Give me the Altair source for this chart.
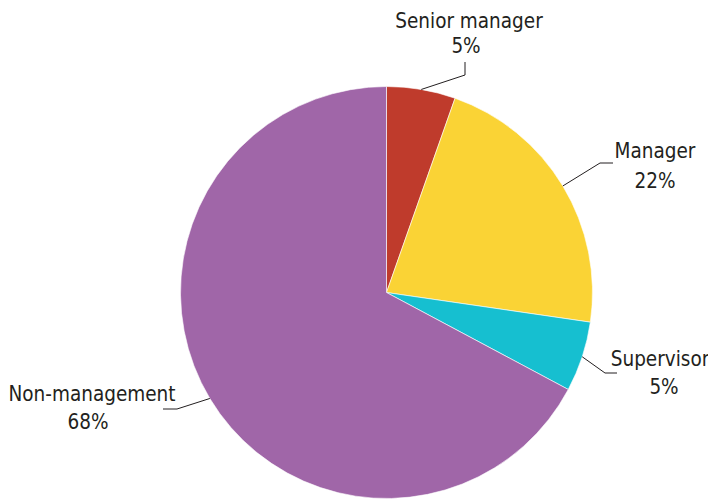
import math
import altair as alt
import pandas as pd

# ---- data ----
categories = ["Senior manager", "Manager", "Supervisor", "Non-management"]
shares = [5.4, 21.9, 5.5, 67.2]
pct_labels = ["5%", "22%", "5%", "68%"]
colors = ["#BF3B2C", "#FAD335", "#16BFD0", "#A066A8"]

# ---- layout (pixels) ----
W, H = 700, 491
CX, CY, R = 378.5, 284.5, 206
FONT = "DejaVu Sans Condensed, Liberation Sans Narrow, sans-serif"
FS = 20.5
TXT = "#231F20"
# leader elbow / end and label anchors, relative to the pie centre
elbow = {"Senior manager": (78.5, -217.5), "Manager": (213.5, -129.5),
         "Supervisor": (218.5, 80.5), "Non-management": (-209.5, 116.5)}
endp = {"Senior manager": (78.5, -230.5), "Manager": (226.5, -129.5),
        "Supervisor": (230.5, 80.5), "Non-management": (-223.5, 116.5)}
name_pos = {"Senior manager": (82.5, -270.5), "Manager": (268.5, -140.5),
            "Supervisor": (273.5, 67.5), "Non-management": (-294.5, 102.5)}
pct_pos = {"Senior manager": (79.5, -245.5), "Manager": (268.5, -110.5),
           "Supervisor": (277.5, 95.5), "Non-management": (-298.5, 130.5)}

pie_df = pd.DataFrame({"category": categories, "share": shares,
                       "order": list(range(len(categories)))})

total = sum(shares)
line_rows, text_rows = [], []
cum = 0.0
for cat, s, lab in zip(categories, shares, pct_labels):
    mid = (cum + s / 2) / total * 2 * math.pi
    cum += s
    sx, sy = CX + R * math.sin(mid), CY - R * math.cos(mid)
    pts = [(sx, sy), (CX + elbow[cat][0], CY + elbow[cat][1]),
           (CX + endp[cat][0], CY + endp[cat][1])]
    for i, (px, py) in enumerate(pts):
        line_rows.append({"category": cat, "step": i, "px": px, "py": py})
    text_rows.append({"t": cat, "px": CX + name_pos[cat][0], "py": CY + name_pos[cat][1]})
    text_rows.append({"t": lab, "px": CX + pct_pos[cat][0], "py": CY + pct_pos[cat][1]})

line_df = pd.DataFrame(line_rows)
text_df = pd.DataFrame(text_rows)

xs = alt.Scale(domain=[0, W], range=[0, W], zero=False, nice=False)
ys = alt.Scale(domain=[0, H], range=[0, H], zero=False, nice=False)

pie = alt.Chart(pie_df).mark_arc(radius=R, stroke="white", strokeWidth=0.6).encode(
    theta=alt.Theta("share:Q", stack=True),
    order=alt.Order("order:Q"),
    color=alt.Color("category:N", scale=alt.Scale(domain=categories, range=colors), legend=None),
    x=alt.value(CX),
    y=alt.value(CY),
)

lines = alt.Chart(line_df).mark_line(color="#231F20", strokeWidth=1).encode(
    x=alt.X("px:Q", scale=xs, axis=None),
    y=alt.Y("py:Q", scale=ys, axis=None),
    detail="category:N",
    order="step:Q",
)

texts = alt.Chart(text_df).mark_text(font=FONT, fontSize=FS, color=TXT,
                                     align="center", baseline="middle").encode(
    x=alt.X("px:Q", scale=xs, axis=None),
    y=alt.Y("py:Q", scale=ys, axis=None),
    text="t:N",
)

chart = alt.layer(pie, lines, texts).properties(
    width=W, height=H,
    autosize=alt.AutoSizeParams(type="none"),
    padding=0,
).configure_view(stroke=None)

chart.save("out.html", embed_options={"renderer": "svg", "actions": False})
